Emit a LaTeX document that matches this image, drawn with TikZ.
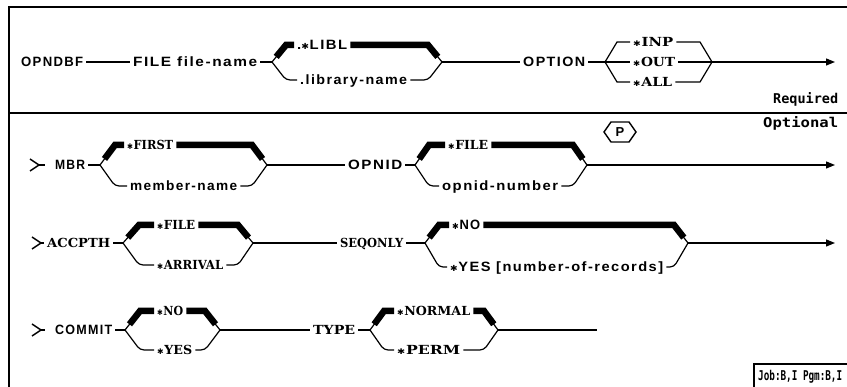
\documentclass[tikz,border=0pt]{standalone}
\usepackage{fontspec}
\usetikzlibrary{arrows.meta,calc}
\newfontfamily\sfl[LetterSpace=10]{Liberation Sans}
\newfontfamily\sel{DejaVu Serif}
\newfontfamily\mol{DejaVu Sans Mono}
\newfontfamily\stf{DejaVu Sans}
\newcommand\st{\raisebox{0.8pt}{\scalebox{0.62}{\stf ✱}}\hspace{0.6pt}}
\newcommand\fitt[2]{\resizebox{#1pt}{\height}{#2}}
\newcommand\fk[3]{%
  \draw[thin] (j#1l) -- (u#1l);
  \draw[thk] ($(j#1l)!0.3!(u#1l)$) -- (u#1l) -- (#2.west);
  \draw[rc] (j#1l) -- (l#1l) -- (#3.west);
  \draw[thk] (#2.east) -- (u#1r) -- ($(j#1r)!0.3!(u#1r)$);
  \draw[thin] (u#1r) -- (j#1r);
  \draw[rc] (#3.east) -- (l#1r) -- (j#1r);}
\newcommand\gtsym[3]{%
  \coordinate (#1) at (#2+9,#3);
  \draw[gtl] (#2,#3-6) .. controls (#2+5,#3-3) .. (#1) .. controls (#2+5,#3+3) .. (#2,#3+6);}
\begin{document}
\begin{tikzpicture}[x=1pt,y=-1pt,
  lab/.style={anchor=west, xshift=-3pt, inner xsep=3pt, inner ysep=0pt, text height=10pt, text depth=0pt},
  sans/.style={lab, font=\fontsize{13.5}{13}\selectfont\sfl\bfseries},
  serf/.style={lab, font=\fontsize{12.5}{13}\selectfont\sel\bfseries},
  mono/.style={lab, font=\fontsize{13.5}{13}\selectfont\mol\bfseries},
  thin/.style={line width=1.2pt},
  gtl/.style={line width=1.5pt},
  thk/.style={line width=6.5pt},
  rc/.style={thin, rounded corners=4pt},
  arr/.style={thin, -{Triangle[length=9pt,width=7pt]}},
  frame/.style={line width=1.6pt}]
\useasboundingbox (0,0) rectangle (847,387);
% frame
\coordinate (ftl) at (9,7); \coordinate (ftr) at (847,7); \coordinate (fbl) at (9,387);
\coordinate (sl) at (9,113); \coordinate (sr) at (847,113);
\draw[frame] (ftr) -- (ftl) -- (fbl);
\draw[frame] (sl) -- (sr);
% ---------- row 1
\node[sans] (opndbf) at (21,62) {\fitt{62}{OPNDBF}};
\node[sans] (file) at (133,62) {\fitt{124}{FILE file-name}};
\node[sans] (libl) at (297,45) {\fitt{50}{.\st LIBL}};
\node[sans] (libname) at (300,80) {\fitt{107}{.library-name}};
\node[sans] (option) at (523,62) {\fitt{62}{OPTION}};
\node[serf] (inp) at (633,42) {\fitt{40}{\st INP}};
\node[serf] (out) at (633,62) {\fitt{42}{\st OUT}};
\node[serf] (all) at (633,82) {\fitt{39}{\st ALL}};
\node[mono] (req) at (773,99) {\fitt{65}{Required}};
\coordinate (j1l) at (272,62); \coordinate (u1l) at (286,45); \coordinate (l1l) at (286,80);
\coordinate (u1r) at (428,45); \coordinate (l1r) at (428,80); \coordinate (j1r) at (442,62);
\coordinate (j2l) at (605,62); \coordinate (u2l) at (617,42); \coordinate (l2l) at (617,82);
\coordinate (u2r) at (700,42); \coordinate (l2r) at (700,82); \coordinate (j2r) at (712,62);
\coordinate (e1) at (835,62);
\draw[thin] (opndbf.east) -- (file.west);
\draw[thin] (file.east) -- (j1l);
\fk{1}{libl}{libname}
\draw[thin] (j1r) -- (option.west);
\draw[thin] (option.east) -- (j2l);
\draw[thin] (j2l) -- (u2l) -- (inp.west);
\draw[thin] (j2l) -- (out.west);
\draw[thin] (j2l) -- (l2l) -- (all.west);
\draw[thin] (inp.east) -- (u2r) -- (j2r);
\draw[thin] (out.east) -- (j2r);
\draw[thin] (all.east) -- (l2r) -- (j2r);
\draw[arr] (j2r) -- (e1);
% ---------- row 2
\node[mono] (opt) at (763,123) {\fitt{75}{Optional}};
\gtsym{g2}{30}{165}
\coordinate (g2e) at (45,165);
\draw[gtl] (g2) -- (g2e);
\node[sans] (mbr) at (55,165) {\fitt{30}{MBR}};
\node[serf] (first) at (127,145) {\fitt{46}{\st FIRST}};
\node[sans] (member) at (130,186) {\fitt{107}{member-name}};
\node[sans] (opnid) at (348,165) {\fitt{54}{OPNID}};
\node[serf] (file2) at (448,145) {\fitt{40}{\st FILE}};
\node[sans] (opnidnum) at (442,186) {\fitt{116}{opnid-number}};
\node[inner sep=0pt, font=\fontsize{13}{13}\selectfont\sfl\bfseries] (P) at (620,132) {P};
\draw[line width=1.4pt] ($(P)+(-16,0)$) -- ($(P)+(-9,-10)$) -- ($(P)+(9,-10)$) -- ($(P)+(16,0)$)
  -- ($(P)+(9,10)$) -- ($(P)+(-9,10)$) -- cycle;
\coordinate (j3l) at (100,165); \coordinate (u3l) at (115,145); \coordinate (l3l) at (115,186);
\coordinate (u3r) at (252,145); \coordinate (l3r) at (252,186); \coordinate (j3r) at (267,165);
\coordinate (j4l) at (415,165); \coordinate (u4l) at (429,145); \coordinate (l4l) at (429,186);
\coordinate (u4r) at (573,145); \coordinate (l4r) at (573,186); \coordinate (j4r) at (587,165);
\coordinate (e2) at (835,165);
\draw[thin] (mbr.east) -- (j3l);
\fk{3}{first}{member}
\draw[thin] (j3r) -- (opnid.west);
\draw[thin] (opnid.east) -- (j4l);
\fk{4}{file2}{opnidnum}
\draw[arr] (j4r) -- (e2);
% ---------- row 3
\gtsym{g3}{32}{243}
\node[serf] (accpth) at (47,243) {\fitt{63}{ACCPTH}};
\draw[gtl] (g3) -- (accpth.west);
\node[serf] (file3) at (157,225) {\fitt{38}{\st FILE}};
\node[serf] (arrival) at (157,265) {\fitt{66}{\st ARRIVAL}};
\node[serf] (seqonly) at (340,243) {\fitt{63}{SEQONLY}};
\node[sans] (no3) at (452,225) {\fitt{28}{\st NO}};
\node[sans] (yes3) at (450,267) {\fitt{213}{\st YES [number-of-records]}};
\coordinate (j5l) at (123,243); \coordinate (u5l) at (139,225); \coordinate (l5l) at (139,265);
\coordinate (u5r) at (238,225); \coordinate (l5r) at (238,265); \coordinate (j5r) at (253,243);
\coordinate (j6l) at (425,243); \coordinate (u6l) at (439,225); \coordinate (l6l) at (439,267);
\coordinate (u6r) at (674,225); \coordinate (l6r) at (674,267); \coordinate (j6r) at (688,243);
\coordinate (e3) at (835,243);
\draw[thin] (accpth.east) -- (j5l);
\fk{5}{file3}{arrival}
\draw[thin] (j5r) -- (seqonly.west);
\draw[thin] (seqonly.east) -- (j6l);
\fk{6}{no3}{yes3}
\draw[arr] (j6r) -- (e3);
% ---------- row 4
\gtsym{g4}{32}{330}
\coordinate (g4e) at (45,330);
\draw[gtl] (g4) -- (g4e);
\node[sans] (commit) at (55,330) {\fitt{57}{COMMIT}};
\node[serf] (no4) at (157,311) {\fitt{26}{\st NO}};
\node[serf] (yes4) at (157,350) {\fitt{35}{\st YES}};
\node[serf] (type) at (313,330) {\fitt{42}{TYPE}};
\node[serf] (normal) at (397,311) {\fitt{73}{\st NORMAL}};
\node[serf] (perm) at (397,350) {\fitt{63}{\st PERM}};
\coordinate (j7l) at (125,330); \coordinate (u7l) at (140,311); \coordinate (l7l) at (140,350);
\coordinate (u7r) at (205,311); \coordinate (l7r) at (205,350); \coordinate (j7r) at (220,330);
\coordinate (j8l) at (370,330); \coordinate (u8l) at (384,311); \coordinate (l8l) at (384,350);
\coordinate (u8r) at (484,311); \coordinate (l8r) at (484,350); \coordinate (j8r) at (498,330);
\coordinate (e4) at (597,330);
\draw[thin] (commit.east) -- (j7l);
\fk{7}{no4}{yes4}
\draw[thin] (j7r) -- (type.west);
\draw[thin] (type.east) -- (j8l);
\fk{8}{normal}{perm}
\draw[thin] (j8r) -- (e4);
% ---------- job box
\node[mono] (job) at (758,376) {\fitt{84}{Job:B,I Pgm:B,I}};
\coordinate (jb1) at (754,387); \coordinate (jb2) at (754,364); \coordinate (jb3) at (847,364);
\draw[thin] (jb1) -- (jb2) -- (jb3);
\end{tikzpicture}
\end{document}
